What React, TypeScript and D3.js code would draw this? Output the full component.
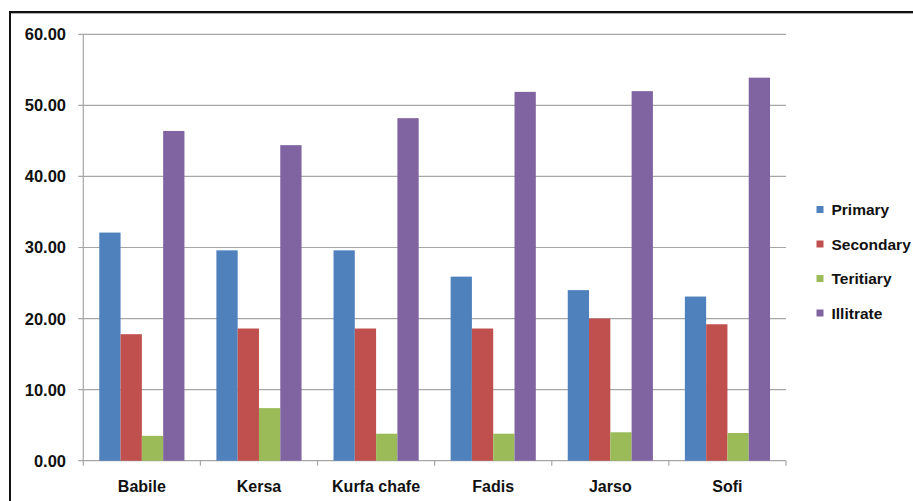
import React from "react";
import * as d3 from "d3";

const categories = ["Babile", "Kersa", "Kurfa chafe", "Fadis", "Jarso", "Sofi"];
const seriesNames = ["Primary", "Secondary", "Teritiary", "Illitrate"];
const primary = [32.1, 29.6, 29.6, 25.9, 24.0, 23.1];
const secondary = [17.8, 18.6, 18.6, 18.6, 20.0, 19.2];
const teritiary = [3.5, 7.4, 3.8, 3.8, 4.0, 3.9];
const illitrate = [46.4, 44.4, 48.2, 51.9, 52.0, 53.9];
const yTicks = [0, 10, 20, 30, 40, 50, 60];
const colors = ["#4F81BD", "#C0504D", "#9BBB59", "#8064A2"];

const seriesValues = [primary, secondary, teritiary, illitrate];

const W = 913;
const H = 501;
const plot = { left: 83.3, right: 786, top: 34.3, bottom: 460.7 };
const FONT = "'Liberation Sans', Arial, sans-serif";

export default function App() {
  const x0 = d3.scaleBand<string>().domain(categories).range([plot.left, plot.right]).paddingInner(0).paddingOuter(0);
  const x1 = d3.scaleBand<string>().domain(seriesNames).range([0, x0.bandwidth()]).paddingInner(0).paddingOuter(0.75);
  const y = d3.scaleLinear().domain([0, 60]).range([plot.bottom, plot.top]);

  const catTicks = [...categories.map((c) => x0(c)!), plot.right];

  return (
    <div style={{ position: "fixed", left: 0, top: 0 }}>
      <svg width={W} height={H} style={{ display: "block", background: "#fff" }}>
        {/* frame: dark top and left edges with a soft shade */}
        <line x1={9} y1={13.5} x2={W} y2={13.5} stroke="#b0b0b0" strokeWidth={1} />
        <line x1={9} y1={12} x2={W} y2={12} stroke="#111" strokeWidth={2} />
        <line x1={10} y1={11} x2={10} y2={H} stroke="#111" strokeWidth={2} />

        {/* horizontal gridlines */}
        {yTicks.map((t) => (
          <line key={"g" + t} x1={plot.left - 5} x2={plot.right} y1={y(t)} y2={y(t)} stroke="#a6a6a6" strokeWidth={1.2} />
        ))}
        {/* value axis */}
        <line x1={plot.left} x2={plot.left} y1={plot.top} y2={plot.bottom} stroke="#a6a6a6" strokeWidth={1.2} />
        {yTicks.map((t) => (
          <text
            key={"yl" + t}
            x={66}
            y={y(t)}
            dy="0.36em"
            textAnchor="end"
            fontFamily={FONT}
            fontWeight="bold"
            fontSize={16.5}
            fill="#111"
          >
            {d3.format(".2f")(t)}
          </text>
        ))}

        {/* category ticks */}
        {catTicks.map((t, i) => (
          <line key={"ct" + i} x1={t} x2={t} y1={plot.bottom} y2={plot.bottom + 5} stroke="#a6a6a6" strokeWidth={1.2} />
        ))}

        {/* bars */}
        {categories.map((c, ci) => (
          <g key={c} transform={`translate(${x0(c)},0)`}>
            {seriesNames.map((s, si) => {
              const v = seriesValues[si][ci];
              return (
                <rect
                  key={s}
                  x={x1(s)!}
                  y={y(v)}
                  width={x1.bandwidth()}
                  height={y(0) - y(v)}
                  fill={colors[si]}
                />
              );
            })}
          </g>
        ))}

        {/* category labels */}
        {categories.map((c) => (
          <text
            key={"xl" + c}
            x={x0(c)! + x0.bandwidth() / 2}
            y={491.5}
            textAnchor="middle"
            fontFamily={FONT}
            fontWeight="bold"
            fontSize={16}
            fill="#111"
          >
            {c}
          </text>
        ))}

        {/* legend */}
        {seriesNames.map((s, i) => {
          const cy = 209.5 + i * 34.5;
          return (
            <g key={"lg" + s}>
              <rect x={816.5} y={cy - 3.5} width={7} height={7} fill={colors[i]} />
              <text x={831.5} y={cy} dy="0.36em" fontFamily={FONT} fontWeight="bold" fontSize={15.5} fill="#111">
                {s}
              </text>
            </g>
          );
        })}
      </svg>
    </div>
  );
}
